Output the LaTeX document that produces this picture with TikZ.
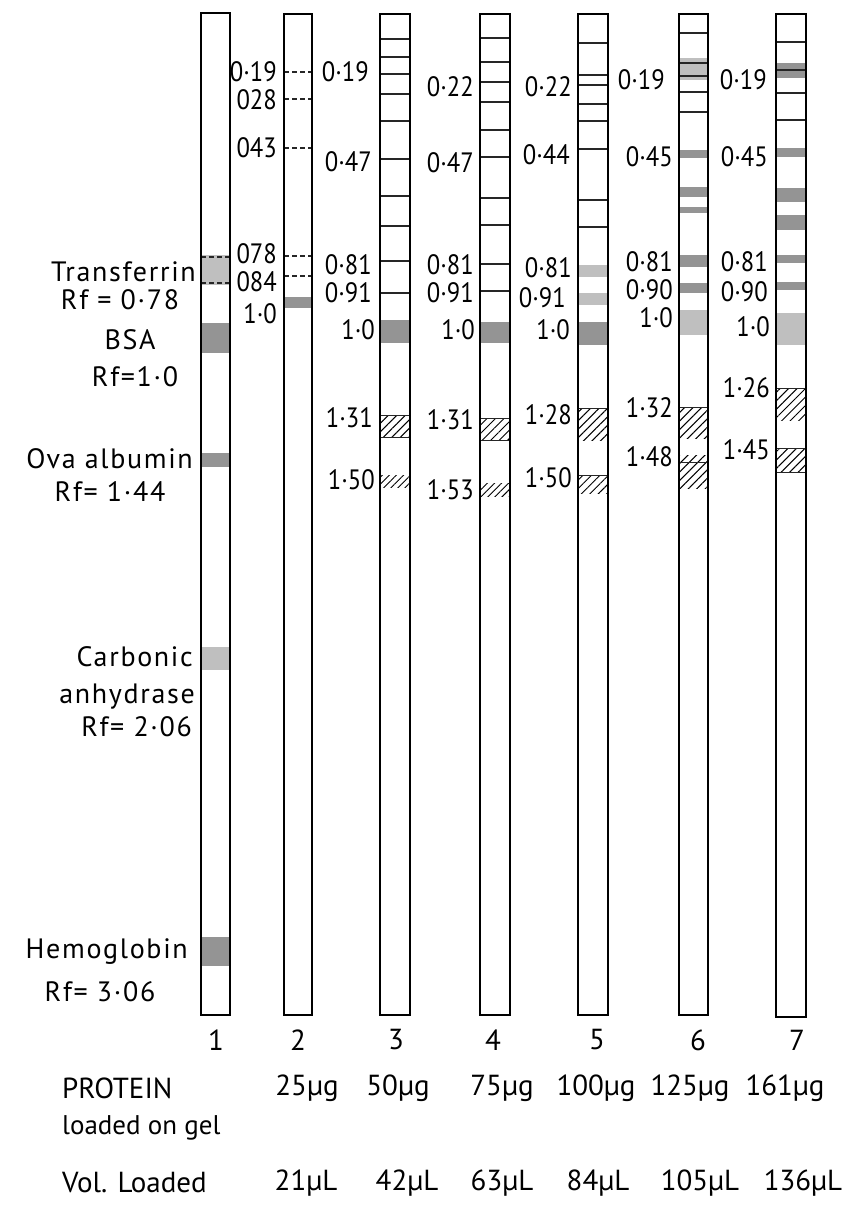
\documentclass[tikz,border=0pt]{standalone}
\usepackage{fontspec}
\setmainfont{PT Sans}
\newfontfamily\numfont[FakeStretch=0.88]{PT Sans}
\newfontfamily\sidefont[LetterSpace=6]{PT Sans}
\usetikzlibrary{patterns.meta}
\begin{document}
\begin{tikzpicture}[x=1pt,y=-1pt,
  lanebox/.style={draw=black, line width=1.8pt},
  bandline/.style={draw=black!85, line width=1.3pt},
  dashline/.style={draw=black!85, line width=1.2pt, dash pattern=on 5pt off 3pt},
  grayband/.style={fill=black!42},
  lightband/.style={fill=black!25},
  hatchband/.style={pattern={Lines[angle=45,distance=6pt,line width=1pt]}},
  lbl/.style={font=\numfont\fontsize{28}{28}\selectfont, inner sep=0pt, anchor=east},
  side/.style={font=\sidefont\fontsize{28}{32}\selectfont, inner sep=0pt},
  tab/.style={font=\fontsize{29}{32}\selectfont, inner sep=0pt},
]
\useasboundingbox (0,0) rectangle (857,1211);
\fill[white] (0,0) rectangle (857,1211);

% ---------------- Lane 1 ----------------
\fill[lightband] (201,255) rectangle (230,285);
\draw[dashline] (201,257) -- (230,257);
\draw[dashline] (201,283) -- (230,283);
\fill[grayband] (201,323) rectangle (230,353);
\fill[grayband] (201,453) rectangle (230,467);
\fill[lightband] (201,647) rectangle (230,670);
\fill[grayband] (201,937) rectangle (230,966);
\draw[lanebox] (201,13) rectangle (230,1015);

% ---------------- Lane 2 ----------------
\fill[grayband] (284,297) rectangle (312,308);
\foreach \y in {72,99,148,256,276}
  \draw[dashline] (284,\y) -- (312,\y);
\draw[lanebox] (284,14) rectangle (312,1015);

% ---------------- Lane 3 ----------------
\fill[grayband] (380,320) rectangle (410,343);
\foreach \y in {39,57,74,94,121,159,196,226,261,293}
  \draw[bandline] (380,\y) -- (410,\y);
\fill[hatchband] (380,415) rectangle (410,437);
\draw[bandline,line width=0.8pt] (380,415) -- (410,415) (380,437) -- (410,437);
\fill[pattern={Lines[angle=45,distance=5pt,line width=0.9pt]}] (380,475) rectangle (410,487);
\draw[lanebox] (380,14) rectangle (410,1015);

% ---------------- Lane 4 ----------------
\fill[grayband] (480,322) rectangle (510,343);
\foreach \y in {38,62,82,102,130,157,198,225,264,291}
  \draw[bandline] (480,\y) -- (510,\y);
\fill[hatchband] (480,418) rectangle (510,440);
\draw[bandline,line width=0.8pt] (480,418) -- (510,418) (480,440) -- (510,440);
\fill[pattern={Lines[angle=45,distance=5pt,line width=0.9pt]}] (480,483) rectangle (510,496);
\draw[lanebox] (480,14) rectangle (510,1015);

% ---------------- Lane 5 ----------------
\fill[lightband] (578,265) rectangle (608,277);
\fill[lightband] (578,293) rectangle (608,305);
\fill[grayband] (578,322) rectangle (608,345);
\foreach \y in {43,75,85,104,121,149,200,227}
  \draw[bandline] (578,\y) -- (608,\y);
\fill[hatchband] (578,408) rectangle (608,440);
\draw[bandline,line width=0.8pt] (578,408) -- (608,408);
\fill[hatchband] (578,475) rectangle (608,493);
\draw[bandline,line width=0.8pt] (578,475) -- (608,475);
\draw[lanebox] (578,14) rectangle (608,1015);

% ---------------- Lane 6 ----------------
\fill[lightband] (679,58) rectangle (708,80);
\foreach \a/\b in {150/158,187/197,207/213,255/267,283/293}
  \fill[grayband] (679,\a) rectangle (708,\b);
\fill[lightband] (679,310) rectangle (708,335);
\foreach \y in {33,63,76,92,112}
  \draw[bandline] (679,\y) -- (708,\y);
\fill[hatchband] (679,407) rectangle (708,438);
\draw[bandline,line width=0.8pt] (679,407) -- (708,407);
\fill[hatchband] (679,455) rectangle (708,488);
\draw[bandline,line width=0.8pt] (679,462) -- (708,462);
\draw[lanebox] (679,14) rectangle (708,1015);

% ---------------- Lane 7 ----------------
\foreach \a/\b in {63/78,148/157,188/202,215/230,255/263,282/290}
  \fill[grayband] (776,\a) rectangle (806,\b);
\fill[lightband] (776,313) rectangle (806,345);
\foreach \y in {42,70,93,120}
  \draw[bandline] (776,\y) -- (806,\y);
\fill[hatchband] (776,388) rectangle (806,420);
\draw[bandline,line width=0.8pt] (776,388) -- (806,388);
\fill[hatchband] (776,448) rectangle (806,472);
\draw[bandline,line width=0.8pt] (776,448) -- (806,448) (776,472) -- (806,472);
\draw[lanebox] (776,14) rectangle (806,1017);

% ---------------- Rf labels beside lanes ----------------
\node[lbl] (a1) at (277,72)  {0·19};
\node[lbl] (a2) at (277,100) {028};
\node[lbl] (a3) at (277,148) {043};
\node[lbl] (a4) at (277,254) {078};
\node[lbl] (a5) at (277,282) {084};
\node[lbl] (a6) at (277,314) {1·0};

\node[lbl] (b1) at (369,72)  {0·19};
\node[lbl] (b2) at (372,162) {0·47};
\node[lbl] (b3) at (372,265) {0·81};
\node[lbl] (b4) at (372,293) {0·91};
\node[lbl] (b5) at (375,330) {1·0};
\node[lbl] (b6) at (373,418) {1·31};
\node[lbl] (b7) at (375,480) {1·50};

\node[lbl] (c1) at (474,87)  {0·22};
\node[lbl] (c2) at (474,163) {0·47};
\node[lbl] (c3) at (474,265) {0·81};
\node[lbl] (c4) at (474,293) {0·91};
\node[lbl] (c5) at (475,330) {1·0};
\node[lbl] (c6) at (474,420) {1·31};
\node[lbl] (c7) at (474,490) {1·53};

\node[lbl] (d1) at (572,87)  {0·22};
\node[lbl] (d2) at (570,155) {0·44};
\node[lbl] (d3) at (572,268) {0·81};
\node[lbl] (d4) at (566,298) {0·91};
\node[lbl] (d5) at (570,330) {1·0};
\node[lbl] (d6) at (572,415) {1·28};
\node[lbl] (d7) at (572,478) {1·50};

\node[lbl] (e1) at (665,80)  {0·19};
\node[lbl] (e2) at (673,157) {0·45};
\node[lbl] (e3) at (673,262) {0·81};
\node[lbl] (e4) at (673,290) {0·90};
\node[lbl] (e5) at (673,318) {1·0};
\node[lbl] (e6) at (673,408) {1·32};
\node[lbl] (e7) at (673,457) {1·48};

\node[lbl] (f1) at (767,80)  {0·19};
\node[lbl] (f2) at (768,157) {0·45};
\node[lbl] (f3) at (768,262) {0·81};
\node[lbl] (f4) at (768,292) {0·90};
\node[lbl] (f5) at (770,327) {1·0};
\node[lbl] (f6) at (770,388) {1·26};
\node[lbl] (f7) at (770,450) {1·45};

% ---------------- Marker labels (lane 1) ----------------
\node[side,anchor=east] (m1) at (196,272) {Transferrin};
\node[side] (m2) at (120,300) {Rf = 0·78};
\node[side] (m3) at (130,340) {BSA};
\node[side] (m4) at (135,377) {Rf=1·0};
\node[side,anchor=east] (m5) at (193,459) {Ova albumin};
\node[side] (m6) at (110,492) {Rf= 1·44};
\node[side,anchor=east] (m7) at (193,657) {Carbonic};
\node[side,anchor=east] (m8) at (195,697) {anhydrase};
\node[side,anchor=east] (m9) at (192,727) {Rf= 2·06};
\node[side,anchor=east] (m10) at (188,952) {Hemoglobin};
\node[side] (m11) at (100,992) {Rf= 3·06};

% ---------------- Lane numbers ----------------
\foreach \n/\x in {1/216,2/298,3/396,4/493,5/597,6/698,7/797}
  \node[tab] (n\n) at (\x,1040) {\n};

% ---------------- Loading table ----------------
\node[tab,anchor=west] (p0) at (62,1088) {PROTEIN};
\node[tab,anchor=west,font=\fontsize{27}{30}\selectfont] (p00) at (62,1128) {loaded on gel};
\node[tab,anchor=west] (v0) at (62,1183) {Vol. Loaded};
\foreach \t/\x [count=\i] in {25µg/307,50µg/398,75µg/502,100µg/596,125µg/690,161µg/785}
  \node[tab] (p\i) at (\x,1088) {\t};
\foreach \t/\x [count=\i] in {21µL/306,42µL/407,63µL/502,84µL/598,105µL/700,136µL/803}
  \node[tab] (v\i) at (\x,1183) {\t};
\end{tikzpicture}
\end{document}
